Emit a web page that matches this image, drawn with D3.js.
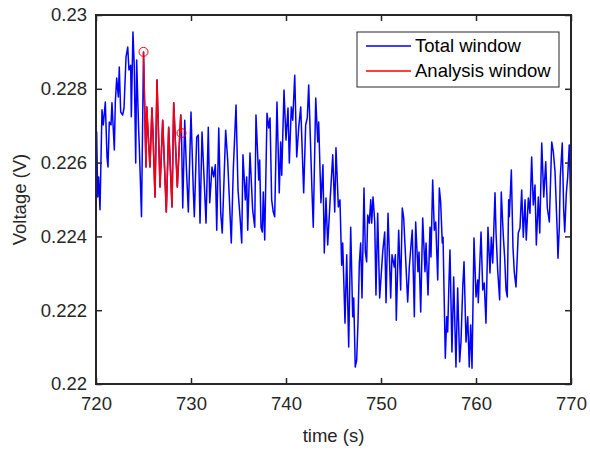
<!DOCTYPE html>
<html>
<head>
<meta charset="utf-8">
<script src="https://cdn.jsdelivr.net/npm/d3@7"></script>
<style>
  body { margin: 0; background: #fff; }
  text { font-family: "Liberation Sans", Arial, Helvetica, sans-serif; fill: #262626; }
  .axis text { font-size: 18.5px; }
  .axis .domain { display: none; }
  .axis line { stroke: #262626; stroke-width: 1.5; }
  .label { font-size: 18.5px; }
  .legend text { font-size: 18.5px; fill: #000; }
</style>
</head>
<body>
<div id="chart"></div>
<script>
// time (s), peaks and troughs of the trace
const time = [
  720.00,720.07,720.18,720.28,720.42,720.63,720.77,720.98,721.16,721.26,721.40,721.58,721.68,721.93,722.03,722.18,
  722.35,722.45,722.60,722.81,722.95,723.16,723.34,723.47,723.65,723.72,723.89,724.03,724.18,724.28,724.49,724.56,
  724.79,725.00,725.26,725.34,725.51,725.68,725.89,726.00,726.21,726.42,726.74,727.02,727.40,727.65,728.00,728.18,
  728.56,728.92,729.00,729.13,729.34,729.51,729.72,730.00,730.24,730.35,730.60,730.77,730.95,731.16,731.37,731.58,
  731.82,731.97,732.21,732.39,732.56,732.71,732.92,733.13,733.29,733.65,733.86,734.24,734.45,734.74,734.95,735.16,
  735.34,735.47,735.72,735.86,735.97,736.21,736.49,736.71,736.84,737.13,737.23,737.37,737.51,737.61,737.76,738.00,
  738.18,738.32,738.49,738.66,738.81,739.05,739.29,739.44,739.55,739.79,740.00,740.21,740.35,740.56,740.71,740.92,
  741.13,741.34,741.55,741.86,742.07,742.24,742.39,742.74,742.87,743.13,743.34,743.44,743.68,743.89,744.03,744.21,
  744.39,744.63,744.92,745.13,745.26,745.51,745.68,745.86,745.97,746.21,746.39,746.60,746.81,747.02,747.13,747.29,
  747.44,747.58,747.72,747.86,748.00,748.21,748.35,748.49,748.60,748.77,748.92,749.02,749.16,749.34,749.47,749.65,
  749.86,750.18,750.39,750.53,750.74,751.02,751.16,751.40,751.51,751.61,751.86,752.07,752.24,752.39,752.56,752.81,
  752.98,753.16,753.29,753.51,753.65,753.89,754.00,754.18,754.39,754.63,754.74,754.95,755.16,755.26,755.44,755.61,
  755.76,755.97,756.14,756.28,756.45,756.53,756.77,756.92,757.02,757.16,757.26,757.47,757.65,757.89,758.07,758.28,
  758.42,758.60,758.74,758.95,759.13,759.29,759.44,759.58,759.79,760.00,760.18,760.24,760.53,760.71,760.87,761.05,
  761.26,761.47,761.61,761.76,762.00,762.11,762.28,762.49,762.66,762.87,763.02,763.16,763.29,763.44,763.51,763.72,
  763.89,764.03,764.21,764.45,764.63,764.81,764.98,765.16,765.29,765.51,765.68,765.86,766.03,766.21,766.35,766.56,
  766.71,766.92,767.13,767.34,767.51,767.72,767.97,768.14,768.32,768.56,768.63,768.77,768.87,769.08,769.23,769.34,
  769.51,769.65,769.82,770.00
];

// voltage (V)
const voltage = [
  0.22553,0.22683,0.22507,0.22561,0.22472,0.22743,0.22702,0.22764,0.22615,0.22588,0.22710,0.22702,0.22762,0.22634,0.22762,0.22829,
  0.22778,0.22859,0.22737,0.22729,0.22748,0.22886,0.22913,0.22851,0.22864,0.22724,0.22954,0.22859,0.22599,0.22878,0.22688,0.22642,
  0.22453,0.22900,0.22588,0.22751,0.22667,0.22588,0.22748,0.22680,0.22507,0.22824,0.22534,0.22715,0.22466,0.22696,0.22480,0.22762,
  0.22534,0.22729,0.22680,0.22477,0.22715,0.22588,0.22466,0.22737,0.22526,0.22453,0.22669,0.22675,0.22436,0.22683,0.22561,0.22436,
  0.22696,0.22491,0.22588,0.22561,0.22594,0.22417,0.22694,0.22463,0.22409,0.22688,0.22607,0.22382,0.22580,0.22756,0.22526,0.22453,
  0.22382,0.22621,0.22499,0.22561,0.22417,0.22626,0.22472,0.22425,0.22729,0.22553,0.22607,0.22425,0.22412,0.22520,0.22390,0.22734,
  0.22694,0.22721,0.22499,0.22466,0.22453,0.22764,0.22518,0.22656,0.22566,0.22797,0.22661,0.22748,0.22599,0.22751,0.22715,0.22837,
  0.22615,0.22696,0.22751,0.22518,0.22702,0.22721,0.22810,0.22520,0.22425,0.22775,0.22656,0.22710,0.22491,0.22594,0.22355,0.22504,
  0.22377,0.22491,0.22621,0.22466,0.22640,0.22480,0.22499,0.22322,0.22382,0.22165,0.22350,0.22100,0.22425,0.22182,0.22233,0.22046,
  0.22065,0.22168,0.22328,0.22382,0.22233,0.22531,0.22358,0.22331,0.22458,0.22436,0.22499,0.22436,0.22507,0.22439,0.22241,0.22463,
  0.22233,0.22358,0.22412,0.22220,0.22463,0.22233,0.22350,0.22317,0.22350,0.22173,0.22417,0.22255,0.22477,0.22450,0.22358,0.22222,
  0.22317,0.22377,0.22417,0.22182,0.22439,0.22304,0.22358,0.22195,0.22450,0.22304,0.22382,0.22241,0.22425,0.22344,0.22553,0.22417,
  0.22439,0.22282,0.22531,0.22493,0.22382,0.22398,0.22070,0.22182,0.22141,0.22282,0.22363,0.22087,0.22290,0.22046,0.22260,0.22060,
  0.22114,0.22260,0.22331,0.22114,0.22182,0.22046,0.22160,0.22043,0.22396,0.22236,0.22282,0.22220,0.22412,0.22255,0.22274,0.22165,
  0.22425,0.22301,0.22398,0.22328,0.22518,0.22409,0.22309,0.22228,0.22520,0.22404,0.22341,0.22255,0.22236,0.22499,0.22453,0.22580,
  0.22371,0.22304,0.22263,0.22409,0.22423,0.22526,0.22398,0.22499,0.22390,0.22504,0.22463,0.22615,0.22485,0.22539,0.22377,0.22507,
  0.22409,0.22653,0.22507,0.22602,0.22477,0.22439,0.22656,0.22629,0.22575,0.22404,0.22341,0.22425,0.22561,0.22653,0.22472,0.22412,
  0.22518,0.22561,0.22648,0.22453
];

// analysis window bounds (s)
const windowStart = 725, windowEnd = 729;

const xTicks = [720, 730, 740, 750, 760, 770];
const yTicks = [0.22, 0.222, 0.224, 0.226, 0.228, 0.23];
const legendLabels = ["Total window", "Analysis window"];
const colors = ["#0000ff", "#ff0000"];

let totalWidth = 590, totalHeight = 450;
let margin = {top: 15, right: 19, bottom: 66, left: 96};
let width = totalWidth - margin.left - margin.right,
    height = totalHeight - margin.top - margin.bottom;

let data = time.map((t, i) => ({t: t, v: voltage[i]}));
let analysis = data.filter(d => d.t >= windowStart && d.t <= windowEnd);

let svg = d3.select("#chart").append("svg")
    .attr("width", totalWidth)
    .attr("height", totalHeight)
    .append("g")
    .attr("transform", "translate(" + margin.left + "," + margin.top + ")");

const xScale = d3.scaleLinear().domain([720, 770]).range([0, width]);
const yScale = d3.scaleLinear().domain([0.22, 0.23]).range([height, 0]);

svg.append("clipPath").attr("id", "clip")
    .append("rect").attr("width", width).attr("height", height);

let line = d3.line()
    .x(d => xScale(d.t))
    .y(d => yScale(d.v));

svg.append("path")
    .datum(data)
    .attr("clip-path", "url(#clip)")
    .attr("fill", "none")
    .attr("stroke", colors[0])
    .attr("stroke-width", 1.5)
    .attr("stroke-linejoin", "round")
    .attr("d", line);

svg.append("path")
    .datum(analysis)
    .attr("fill", "none")
    .attr("stroke", colors[1])
    .attr("stroke-width", 1.5)
    .attr("stroke-linejoin", "round")
    .attr("d", line);

// circles at start and end of analysis window
svg.selectAll("circle.mark")
    .data([analysis[0], analysis[analysis.length - 1]])
    .enter()
    .append("circle")
    .attr("class", "mark")
    .attr("cx", d => xScale(d.t))
    .attr("cy", d => yScale(d.v))
    .attr("r", 4.5)
    .attr("fill", "none")
    .attr("stroke", colors[1])
    .attr("stroke-width", 1);

// axes, ticks inside like matlab
svg.append("g")
    .attr("class", "axis")
    .attr("transform", "translate(0," + height + ")")
    .call(d3.axisBottom(xScale).tickValues(xTicks).tickSizeInner(-6).tickSizeOuter(0).tickPadding(13));

svg.append("g")
    .attr("class", "axis")
    .call(d3.axisTop(xScale).tickValues(xTicks).tickSizeInner(-6).tickSizeOuter(0).tickFormat(""));

svg.append("g")
    .attr("class", "axis")
    .call(d3.axisLeft(yScale).tickValues(yTicks).tickSizeInner(-6).tickSizeOuter(0).tickPadding(9)
        .tickFormat(d => d3.format("")(+d.toFixed(3))));

svg.append("g")
    .attr("class", "axis")
    .attr("transform", "translate(" + width + ",0)")
    .call(d3.axisRight(yScale).tickValues(yTicks).tickSizeInner(-6).tickSizeOuter(0).tickFormat(""));

svg.append("rect")
    .attr("width", width)
    .attr("height", height)
    .attr("fill", "none")
    .attr("stroke", "#262626")
    .attr("stroke-width", 2);

svg.append("text")
    .attr("class", "label")
    .attr("x", width / 2)
    .attr("y", height + 58)
    .attr("text-anchor", "middle")
    .text("time (s)");

svg.append("text")
    .attr("class", "label")
    .attr("transform", "rotate(-90)")
    .attr("x", -height / 2)
    .attr("y", -70)
    .attr("text-anchor", "middle")
    .text("Voltage (V)");

// legend
let legend = svg.append("g")
    .attr("class", "legend")
    .attr("transform", "translate(" + (357 - margin.left) + "," + (32 - margin.top) + ")");

legend.append("rect")
    .attr("width", 202)
    .attr("height", 55)
    .attr("fill", "#fff")
    .attr("stroke", "#262626")
    .attr("stroke-width", 1);

legendLabels.forEach((lab, i) => {
    let ly = 14 + i * 25;
    legend.append("rect")
        .attr("x", 9)
        .attr("y", ly - 0.75)
        .attr("width", 45)
        .attr("height", 1.5)
        .attr("fill", colors[i]);
    legend.append("text")
        .attr("x", 58)
        .attr("y", ly)
        .attr("dy", "0.35em")
        .text(lab);
});
</script>
</body>
</html>
